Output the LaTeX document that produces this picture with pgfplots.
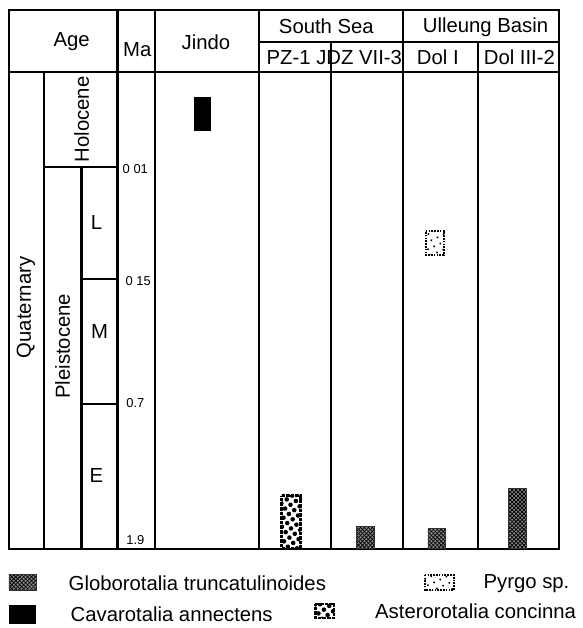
\documentclass[border=0pt]{standalone}
\usepackage{pgfplots}
\pgfplotsset{compat=1.18}
\usepackage{fontspec}
\setmainfont{Liberation Sans}
\usetikzlibrary{patterns.meta}
\tikzset{
  glob/.style={draw=black!80,line width=0.3pt,fill=black!45,
    postaction={pattern={Lines[angle=45,distance=1.4pt,line width=0.4pt]},pattern color=black},
    postaction={pattern={Lines[angle=-45,distance=1.4pt,line width=0.4pt]},pattern color=black}},
  cava/.style={draw=black,fill=black},
  pyrgo/.style={draw=black,line width=0.8pt,dash pattern=on 0.8pt off 0.6pt,fill=white,
    postaction={pattern={Dots[radius=0.55pt,distance=3.4pt,angle=25]},pattern color=black}},
  aster/.style={draw=black,line width=1.1pt,dash pattern=on 1.8pt off 0.5pt,fill=white,
    postaction={pattern={Dots[radius=1.15pt,distance=3.3pt,angle=35]},pattern color=black}},
  hd/.style={font=\fontsize{10.2pt}{12pt}\selectfont},
  ma/.style={font=\fontsize{6.5pt}{7.5pt}\selectfont},
}
\begin{document}
\begin{tikzpicture}
\begin{axis}[width=285pt,height=314pt,scale only axis,
  xmin=0,xmax=570,ymin=0,ymax=628,y dir=reverse,
  axis lines=none,clip=false]
\path (axis cs:0,0) rectangle (axis cs:570,628);
% table frame
\draw[line width=1.1pt] (axis cs:9,10) rectangle (axis cs:562,552);
\draw[line width=1.1pt] (axis cs:9,72) -- (axis cs:562,72);
\foreach \x in {118,156,260,405} {\edef\tmp{\noexpand\draw[line width=1.1pt] (axis cs:\x,10) -- (axis cs:\x,552);}\tmp}
\draw[line width=1.1pt] (axis cs:44,72) -- (axis cs:44,552);
\draw[line width=1.1pt] (axis cs:82,168) -- (axis cs:82,552);
\draw[line width=1.1pt] (axis cs:260,42) -- (axis cs:562,42);
\draw[line width=1.1pt] (axis cs:333,42) -- (axis cs:333,552);
\draw[line width=1.1pt] (axis cs:480,42) -- (axis cs:480,552);
\draw[line width=1.1pt] (axis cs:44,168) -- (axis cs:118,168);
\draw[line width=1.1pt] (axis cs:82,280) -- (axis cs:118,280);
\draw[line width=1.1pt] (axis cs:82,406) -- (axis cs:118,406);
% headers
\node[hd] at (axis cs:72,42) {Age};
\node[hd] at (axis cs:138,50) {Ma};
\node[hd] at (axis cs:207,42) {Jindo};
\node[hd] at (axis cs:328,26) {South Sea};
\node[hd] at (axis cs:488,27) {Ulleung Basin};
\node[hd] at (axis cs:336,58) {PZ-1 JDZ VII-3};
\node[hd] at (axis cs:440,58) {Dol I};
\node[hd] at (axis cs:522,58) {Dol III-2};
\node[hd,rotate=90] at (axis cs:82,120) {Holocene};
\node[hd,rotate=90] at (axis cs:26,309) {Quaternary};
\node[hd,rotate=90] at (axis cs:63,348) {Pleistocene};
\node[hd] at (axis cs:97,224) {L};
\node[hd] at (axis cs:100,333) {M};
\node[hd] at (axis cs:97,478) {E};
\node[ma] at (axis cs:136,170) {0 01};
\node[ma] at (axis cs:139,282) {0 15};
\node[ma] at (axis cs:136,405) {0.7};
\node[ma] at (axis cs:136,543) {1.9};
% occurrence bars
\addplot[cava] coordinates {(195,98) (211,98) (211,131) (195,131)} -- cycle;
\addplot[aster] coordinates {(283,498) (302,498) (302,551) (283,551)} -- cycle;
\addplot[glob] coordinates {(358,529) (376,529) (376,551) (358,551)} -- cycle;
\addplot[pyrgo] coordinates {(428,232) (446,232) (446,256) (428,256)} -- cycle;
\addplot[glob] coordinates {(430,531) (448,531) (448,551) (430,551)} -- cycle;
\addplot[glob] coordinates {(511,491) (529,491) (529,551) (511,551)} -- cycle;
% legend
\addplot[glob] coordinates {(9,577) (36,577) (36,593) (9,593)} -- cycle;
\addplot[cava] coordinates {(9,608) (36,608) (36,627) (9,627)} -- cycle;
\addplot[pyrgo] coordinates {(427,578) (456,578) (456,593) (427,593)} -- cycle;
\addplot[aster] coordinates {(317,607) (336,607) (336,621) (317,621)} -- cycle;
\node[hd,anchor=west] at (axis cs:62,586) {Globorotalia truncatulinoides};
\node[hd,anchor=west] at (axis cs:64,617) {Cavarotalia annectens};
\node[hd,anchor=west] at (axis cs:479,587) {Pyrgo sp.};
\node[hd,anchor=west] at (axis cs:370,614) {Asterorotalia concinna};
\end{axis}
\end{tikzpicture}
\end{document}
